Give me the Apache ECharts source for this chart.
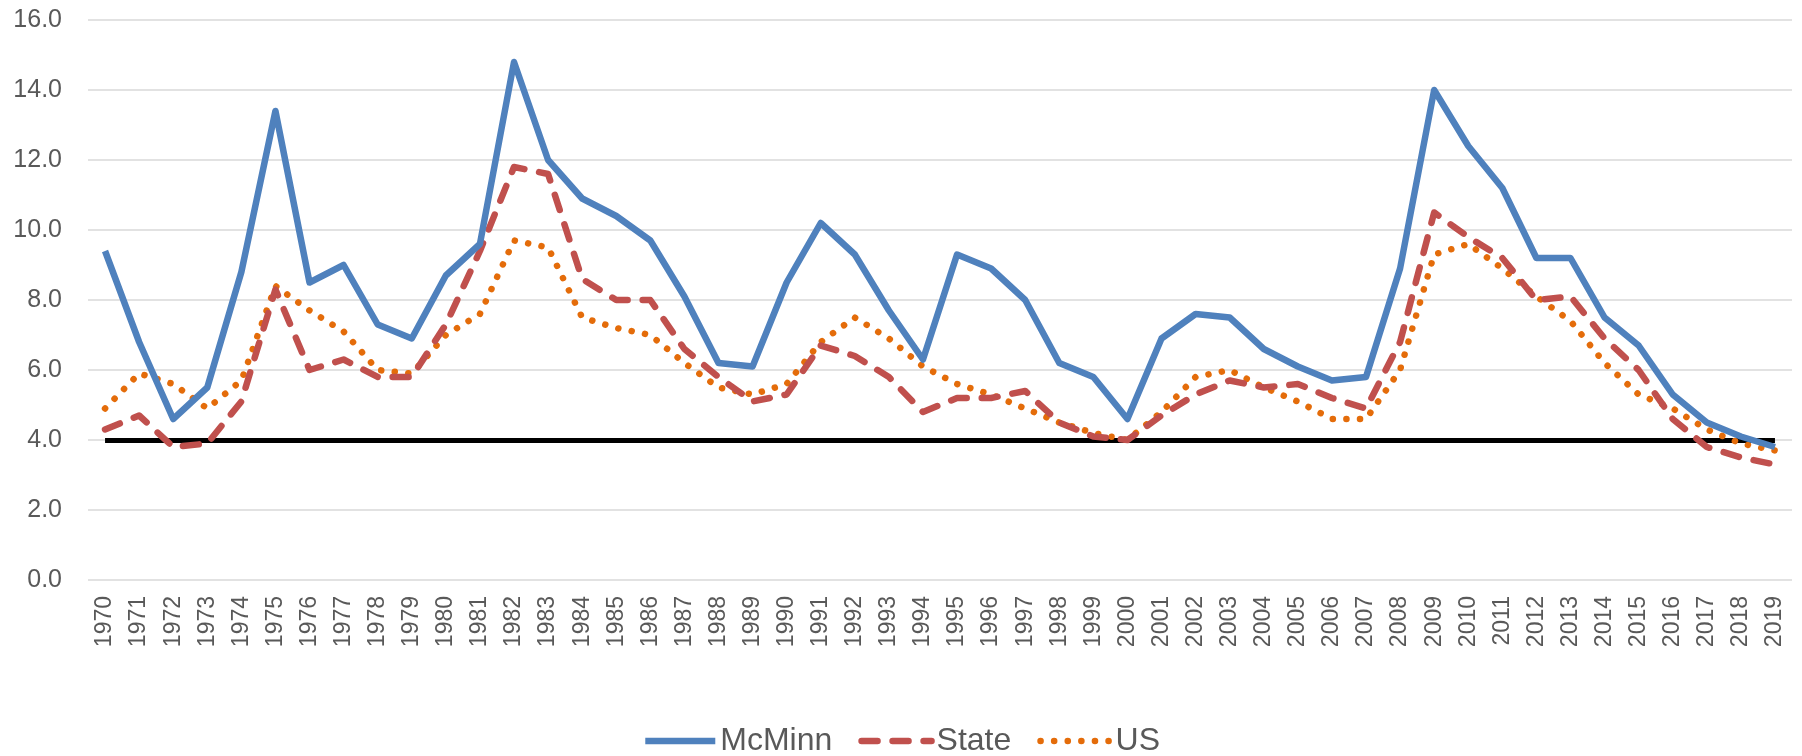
<!DOCTYPE html>
<html>
<head>
	<meta http-equiv="Content-Type" content="text/html;charset=utf-8">
	<title>McMinn / State / US</title>
	<script src="https://cdn.jsdelivr.net/npm/echarts@6/dist/echarts.min.js"></script>
	<style>
	html, body { margin: 0; padding: 0; background: #fff; }
	#chart { width: 1802px; height: 756px; }
	</style>
</head>
<body>
<div id="chart"></div>
<script>
	var years = ['1970','1971','1972','1973','1974','1975','1976','1977','1978','1979',
		'1980','1981','1982','1983','1984','1985','1986','1987','1988','1989',
		'1990','1991','1992','1993','1994','1995','1996','1997','1998','1999',
		'2000','2001','2002','2003','2004','2005','2006','2007','2008','2009',
		'2010','2011','2012','2013','2014','2015','2016','2017','2018','2019'];

	var mcminn = [9.4, 6.8, 4.6, 5.5, 8.8, 13.4, 8.5, 9.0, 7.3, 6.9,
		8.7, 9.6, 14.8, 12.0, 10.9, 10.4, 9.7, 8.1, 6.2, 6.1,
		8.5, 10.2, 9.3, 7.7, 6.3, 9.3, 8.9, 8.0, 6.2, 5.8,
		4.6, 6.9, 7.6, 7.5, 6.6, 6.1, 5.7, 5.8, 8.9, 14.0,
		12.4, 11.2, 9.2, 9.2, 7.5, 6.7, 5.3, 4.5, 4.1, 3.8];

	var state = [4.3, 4.7, 3.8, 3.9, 5.1, 8.3, 6.0, 6.3, 5.8, 5.8,
		7.3, 9.4, 11.8, 11.6, 8.6, 8.0, 8.0, 6.6, 5.8, 5.1,
		5.3, 6.7, 6.4, 5.8, 4.8, 5.2, 5.2, 5.4, 4.5, 4.1,
		4.0, 4.7, 5.3, 5.7, 5.5, 5.6, 5.2, 4.9, 6.8, 10.5,
		9.8, 9.2, 8.0, 8.1, 6.9, 6.0, 4.6, 3.8, 3.5, 3.3];

	var us = [4.9, 5.9, 5.6, 4.9, 5.7, 8.4, 7.7, 7.1, 6.0, 5.9,
		7.0, 7.6, 9.7, 9.5, 7.5, 7.2, 7.0, 6.2, 5.5, 5.3,
		5.6, 6.8, 7.5, 6.9, 6.1, 5.6, 5.3, 4.9, 4.5, 4.2,
		4.0, 4.8, 5.8, 6.0, 5.5, 5.1, 4.6, 4.6, 6.0, 9.3,
		9.6, 8.9, 8.1, 7.4, 6.2, 5.3, 4.9, 4.3, 3.9, 3.7];

	// black reference line across the whole period
	var benchmark = 4.0;

	var seriesNames = ['McMinn', 'State', 'US'];
	var yTicks = [0, 2, 4, 6, 8, 10, 12, 14, 16];

	var textColor = '#595959';
	var fontName = 'Liberation Sans';

	var styles = {
		'McMinn': { color: '#4F81BD', width: 6.5, type: 'solid', cap: 'butt', join: 'round' },
		'State': { color: '#C0504D', width: 6.5, type: [16, 15], cap: 'round', join: 'round' },
		'US': { color: '#E46C0A', width: 6.5, type: [0.1, 13.5], cap: 'round', join: 'round' }
	};

	function makeSeries(name, data, z) {
		return {
			name: name,
			type: 'line',
			data: data,
			symbol: 'none',
			z: z,
			itemStyle: { color: styles[name].color },
			lineStyle: styles[name]
		};
	}

	var series = [
		makeSeries('McMinn', mcminn, 4),
		makeSeries('State', state, 3),
		makeSeries('US', us, 2)
	];
	series[0].markLine = {
		silent: true,
		symbol: 'none',
		z: 1,
		label: { show: false },
		lineStyle: { color: '#000000', width: 5, type: 'solid' },
		data: [[
			{ coord: [years[0], benchmark] },
			{ coord: [years[years.length - 1], benchmark] }
		]]
	};

	var legendData = seriesNames.map(function (n) {
		return {
			name: n,
			itemStyle: { opacity: 0 },
			lineStyle: styles[n]
		};
	});

	var option = {
		animation: false,
		backgroundColor: '#ffffff',
		grid: {
			left: 88,
			right: 10,
			top: 20,
			bottom: 176
		},
		legend: {
			data: legendData,
			left: 'center',
			top: 720,
			itemWidth: 70,
			itemHeight: 14,
			itemGap: 26,
			textStyle: {
				color: textColor,
				fontFamily: fontName,
				fontSize: 32
			}
		},
		xAxis: {
			type: 'category',
			data: years,
			boundaryGap: true,
			axisLine: { show: false },
			axisTick: { show: false },
			axisLabel: {
				rotate: 90,
				interval: 0,
				margin: 16,
				color: textColor,
				fontFamily: fontName,
				fontSize: 23
			}
		},
		yAxis: {
			type: 'value',
			min: yTicks[0],
			max: yTicks[yTicks.length - 1],
			interval: 2,
			axisLine: { show: false },
			axisTick: { show: false },
			splitLine: {
				lineStyle: { color: '#D9D9D9', width: 1.5 }
			},
			axisLabel: {
				margin: 26,
				color: textColor,
				fontFamily: fontName,
				fontSize: 25,
				formatter: function (v) { return v.toFixed(1); }
			}
		},
		series: series
	};

	var myChart = echarts.init(document.getElementById('chart'));
	myChart.setOption(option);
</script>
</body>
</html>
